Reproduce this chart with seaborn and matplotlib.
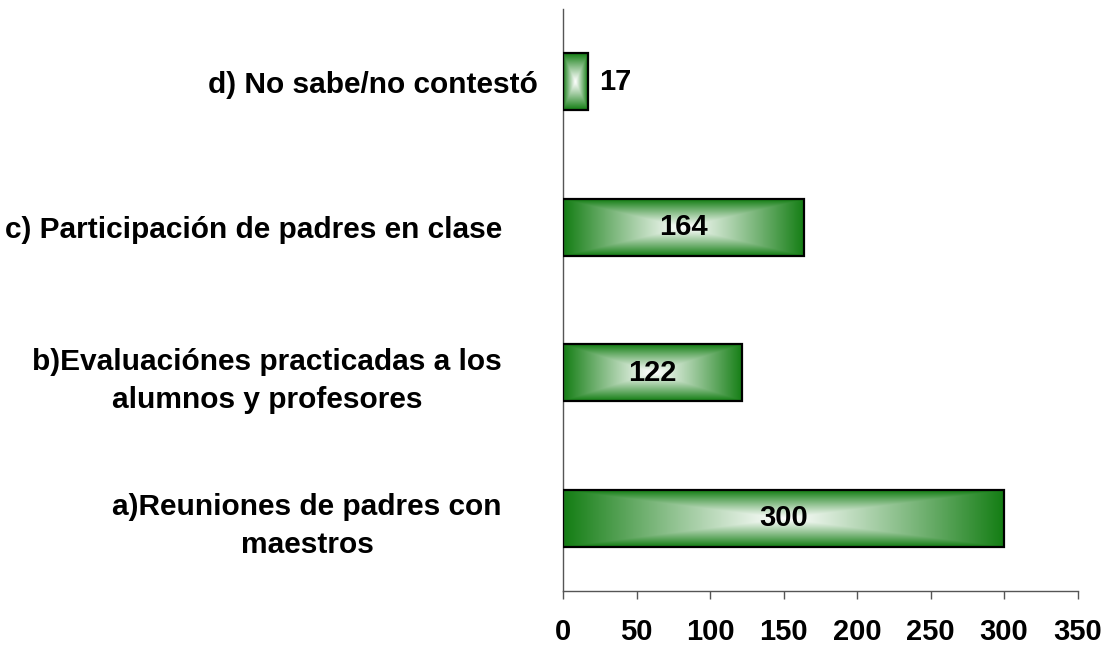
import numpy as np
import pandas as pd
import matplotlib
matplotlib.use("Agg")
import matplotlib.pyplot as plt
import matplotlib.transforms as mtransforms
from matplotlib.colors import to_rgb
import seaborn as sns

# ---- data ----
categories = [
    "d) No sabe/no contestó",
    "c) Participación de padres en clase",
    "b)Evaluaciónes practicadas a los\nalumnos y profesores",
    "a)Reuniones de padres con\nmaestros",
]
values = [17, 164, 122, 300]
x_ticks = [0, 50, 100, 150, 200, 250, 300, 350]

# ---- style ----
sns.set_theme(style="white")
plt.rcParams["font.family"] = ["Liberation Sans", "DejaVu Sans"]
plt.rcParams["font.weight"] = "bold"
plt.rcParams["text.color"] = "black"
plt.rcParams["xtick.labelcolor"] = "black"
plt.rcParams["ytick.labelcolor"] = "black"

green = np.array(to_rgb("#137d13"))
white = np.array([1.0, 1.0, 1.0])

fig = plt.figure(figsize=(11.07, 6.48), dpi=100)
ax = fig.add_axes([0.5086, 0.088, 0.4648, 0.898])

df = pd.DataFrame({"cat": categories, "val": values})
sns.barplot(data=df, y="cat", x="val", orient="h", order=categories,
            color="#137d13", width=0.39, ax=ax, saturation=1)

# gradient fills (rectangular, from centre)
ny, nx = 120, 480
yy, xx = np.mgrid[-1:1:ny * 1j, -1:1:nx * 1j]
t = np.maximum(np.abs(xx), np.abs(yy))
t = np.clip(t, 0, 1) ** 1.1
grad = white[None, None, :] * (1 - t[..., None]) + green[None, None, :] * t[..., None]

for patch in ax.patches:
    x0, y0 = patch.get_x(), patch.get_y()
    w, h = patch.get_width(), patch.get_height()
    im = ax.imshow(grad, extent=(x0, x0 + w, y0 + h, y0), aspect="auto",
                   zorder=2, interpolation="bilinear")
    im.set_clip_path(patch)
    patch.set_facecolor("none")
    patch.set_edgecolor("black")
    patch.set_linewidth(1.6)
    patch.set_zorder(3)

container = ax.containers[0]
inside = [str(v) if v >= 50 else "" for v in values]
outside = [str(v) if v < 50 else "" for v in values]
ax.bar_label(container, labels=inside, label_type="center", fontsize=21,
             fontweight="bold", color="black", zorder=4)
ax.bar_label(container, labels=outside, label_type="edge", padding=8,
             fontsize=21, fontweight="bold", color="black", zorder=4)

ax.set_xlim(0, 350)
ax.set_ylim(3.5, -0.5)
ax.set_xticks(x_ticks)
ax.set_xticklabels([str(v) for v in x_ticks], fontsize=21, fontweight="bold",
                   color="black")
ax.set_xlabel("")
ax.set_ylabel("")

ax.set_yticks(range(len(categories)))
ax.set_yticklabels(categories, fontsize=21.5, fontweight="bold", color="black",
                   multialignment="center", linespacing=1.45)
ax.tick_params(axis="y", length=0, pad=44)
ax.tick_params(axis="x", length=5.8, width=1, color="#555555", pad=13.5,
               direction="out", bottom=True)

# d label sits closer to the axis
for lbl in ax.get_yticklabels():
    if lbl.get_text().startswith("d)"):
        lbl.set_transform(lbl.get_transform() +
                          mtransforms.ScaledTranslation(36 / 100, 0, fig.dpi_scale_trans))

for s in ["top", "right"]:
    ax.spines[s].set_visible(False)
for s in ["left", "bottom"]:
    ax.spines[s].set_color("#555555")
    ax.spines[s].set_linewidth(1)

ax.grid(False)
fig.savefig("out.png", dpi=100, facecolor="white")
